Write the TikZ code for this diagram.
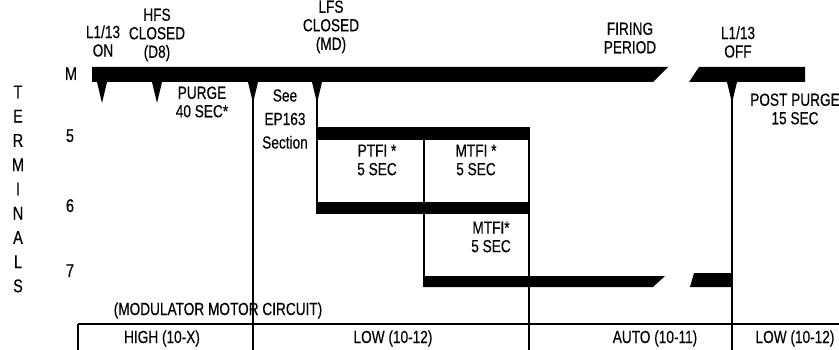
\documentclass[tikz,border=0pt]{standalone}
\usepackage{fontspec}
\setmainfont[FakeStretch=0.78, FakeBold=0.35]{Liberation Sans}
\tikzset{
  lbl/.style={align=center, inner sep=0pt, font=\fontsize{17.5}{18.5}\selectfont},
  wide lbl/.style={lbl, font=\fontsize{17.5}{23.5}\selectfont},
  rail/.style={line width=1.1pt},
}
\begin{document}
\begin{tikzpicture}[x=1pt, y=-1pt, >=stealth]
		\useasboundingbox (0,0) rectangle (839,350);
		
		% TERMINAL LABELS
		\node[lbl, font=\fontsize{18.5}{24.25}\selectfont] (terms) at (18,189) {T\\E\\R\\M\\I\\N\\A\\L\\S};
		\node[lbl, anchor=base, font=\fontsize{18.5}{20}\selectfont] (tM) at (71,80) {M};
		\node[lbl, anchor=base, font=\fontsize{18.5}{20}\selectfont] (t5) at (70,142) {5};
		\node[lbl, anchor=base, font=\fontsize{18.5}{20}\selectfont] (t6) at (70,212) {6};
		\node[lbl, anchor=base, font=\fontsize{18.5}{20}\selectfont] (t7) at (70,277) {7};
		
		% M BAR (broken for the firing period)
		\fill (92,67) -- (668,67) -- (653,82) -- (92,82) -- cycle;
		\fill (699,67) -- (805,67) -- (805,82) -- (689,82) -- cycle;
		
		% Event marks under the M bar
		\foreach \x in {102,157,253,317,732}
			\fill (\x-5,82) -- (\x+5,82) -- (\x,103) -- cycle;
		
		% Terminals 5, 6 and 7
		\fill (317,127) rectangle (530,140);
		\fill (317,202) rectangle (530,214);
		\fill (424,276) -- (665,276) -- (653,287) -- (424,287) -- cycle;
		\fill (694,273) -- (732,273) -- (732,287) -- (690,287) -- cycle;
		
		% Time lines
		\draw[rail] (253,82) -- (253,350);
		\draw[rail] (317,82) -- (317,214);
		\draw[rail] (424,140) -- (424,287);
		\draw[rail] (529,140) -- (529,350);
		\draw[rail] (732,82) -- (732,350);
		
		% Event labels
		\node[lbl] (lon) at (103,41) {L1/13\\ON};
		\node[lbl] (hfs) at (157,35) {HFS\\CLOSED\\(D8)};
		\node[lbl] (lfs) at (331,27) {LFS\\CLOSED\\(MD)};
		\node[lbl] (firing) at (630,38) {FIRING\\PERIOD};
		\node[lbl] (loff) at (738,42) {L1/13\\OFF};
		
		% Interval labels
		\node[lbl] (purge) at (202,102) {PURGE\\40 SEC*};
		\node[wide lbl] (see) at (285,119) {See\\EP163\\Section};
		\node[lbl] (ptfi) at (377,160) {PTFI *\\5 SEC};
		\node[lbl] (mtfi) at (476,160) {MTFI *\\5 SEC};
		\node[lbl] (mtfib) at (491,237) {MTFI*\\5 SEC};
		\node[lbl] (post) at (795,109) {POST PURGE\\15 SEC};
		
		% MODULATOR MOTOR CIRCUIT
		\node[lbl, anchor=base] (modm) at (218,315) {(MODULATOR MOTOR CIRCUIT)};
		\draw[rail] (78,324) -- (839,324);
		\draw[rail] (78,324) -- (78,350);
		\node[lbl, anchor=base] (high) at (162,343) {HIGH (10-X)};
		\node[lbl, anchor=base] (lowa) at (393,343) {LOW (10-12)};
		\node[lbl, anchor=base] (auto) at (655,343) {AUTO (10-11)};
		\node[lbl, anchor=base] (lowb) at (795,343) {LOW (10-12)};
	\end{tikzpicture}
\end{document}
